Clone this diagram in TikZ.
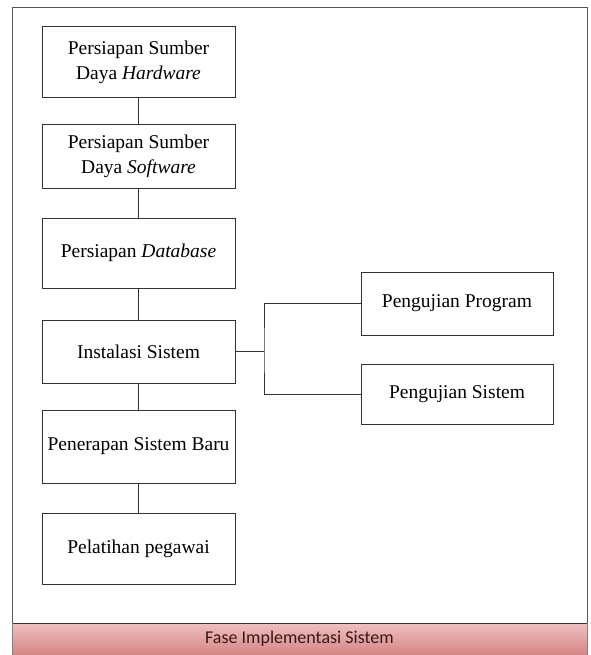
\documentclass[tikz,border=0pt]{standalone}
\usepackage{fontspec}
\setmainfont{Liberation Serif}
\newfontfamily\barfont{Carlito}
\begin{document}
\begin{tikzpicture}[x=1pt,y=-1pt,
  stepbox/.style={draw=black!80,line width=1pt,fill=white,inner sep=0pt,
    align=center,font=\fontsize{19.5}{25}\selectfont,minimum width=193pt},
  link/.style={draw=black!80,line width=1pt}]
\useasboundingbox (0,0) rectangle (590,655);
% outer frame
\fill[white] (0,0) rectangle (590,655);
\draw[black!65,line width=1pt] (12,655) -- (12,8) -- (587,8) -- (587,655);
\shade[top color={rgb,255:red,238;green,192;blue,192}, bottom color={rgb,255:red,214;green,132;blue,132}]
  (12,623) rectangle (587,655);
\draw[black!80,line width=1pt] (12,623) -- (587,623);
\draw[black!50,line width=0.8pt] (12,623) -- (12,655) (587,623) -- (587,655);
\node[font=\barfont\fontsize{18}{20}\selectfont,text={rgb,255:red,60;green,22;blue,22}] (bar) at (299.5,639) {Fase Implementasi Sistem};
% left column
\node[stepbox,minimum height=71pt] (b1) at (138.5,62.5) {Persiapan Sumber\\Daya \textit{Hardware}};
\node[stepbox,minimum height=63pt] (b2) at (138.5,156.5) {Persiapan Sumber\\Daya \textit{Software}};
\node[stepbox,minimum height=70pt] (b3) at (138.5,253) {Persiapan \textit{Database}};
\node[stepbox,minimum height=63pt] (b4) at (138.5,351.5) {Instalasi Sistem};
\node[stepbox,minimum height=73pt] (b5) at (138.5,446.5) {Penerapan Sistem Baru};
\node[stepbox,minimum height=71pt] (b6) at (138.5,548.5) {Pelatihan pegawai};
% right column
\node[stepbox,minimum width=192pt,minimum height=63pt] (p1) at (457,303.5) {Pengujian Program};
\node[stepbox,minimum width=192pt,minimum height=60pt] (p2) at (457,394) {Pengujian Sistem};
% connectors
\draw[link] (b1) -- (b2);
\draw[link] (b2) -- (b3);
\draw[link] (b3) -- (b4);
\draw[link] (b4) -- (b5);
\draw[link] (b5) -- (b6);
\coordinate (j) at (264,351.5);
\draw[link] (b4.east) -- (j);
\draw[link] (p1.west) -| (j) |- (p2.west);
\end{tikzpicture}
\end{document}
